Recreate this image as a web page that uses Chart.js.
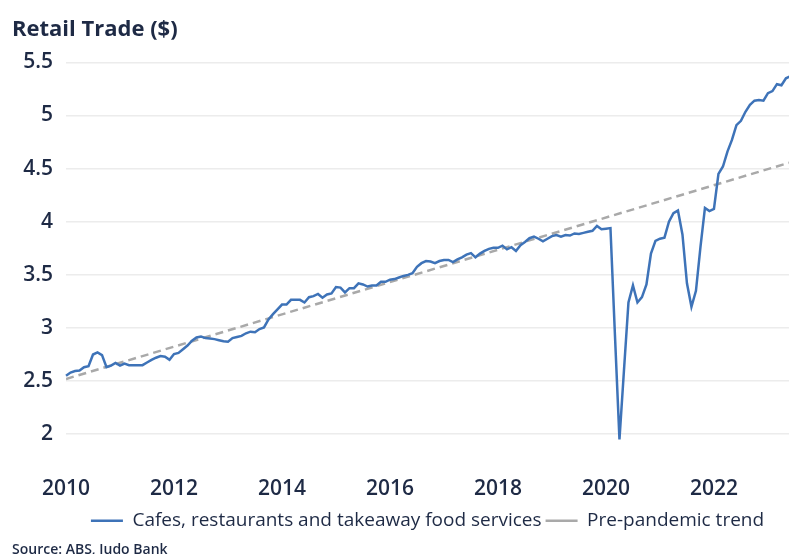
<!DOCTYPE html>
<html>
<head>
<meta charset="utf-8">
<script src="https://cdn.jsdelivr.net/npm/chart.js@4/dist/chart.umd.min.js"></script>
<style>
    html, body { margin: 0; padding: 0; background: #fff; overflow: hidden; }
    canvas { display: block; }
</style>
</head>
<body>
<canvas id="retail-chart" width="789" height="562"></canvas>
<script>
const START_YEAR = 2010

// monthly values, Jan 2010 onwards
const cafeValues = [
    2.55, 2.58, 2.595, 2.60, 2.63, 2.64, 2.75, 2.77, 2.745, 2.63, 2.645, 2.67,
    2.645, 2.665, 2.65, 2.65, 2.65, 2.65, 2.675, 2.70, 2.72, 2.735, 2.73, 2.70,
    2.755, 2.765, 2.80, 2.835, 2.88, 2.91, 2.92, 2.905, 2.90, 2.895, 2.885, 2.875,
    2.87, 2.905, 2.915, 2.925, 2.95, 2.965, 2.96, 2.99, 3.005, 3.08, 3.13, 3.175,
    3.22, 3.22, 3.265, 3.265, 3.265, 3.24, 3.29, 3.30, 3.32, 3.285, 3.315, 3.325,
    3.385, 3.38, 3.335, 3.375, 3.375, 3.42, 3.41, 3.39, 3.40, 3.40, 3.435, 3.435,
    3.455, 3.46, 3.475, 3.49, 3.50, 3.515, 3.575, 3.61, 3.63, 3.625, 3.61, 3.63,
    3.64, 3.64, 3.62, 3.645, 3.665, 3.69, 3.705, 3.665, 3.70, 3.725, 3.745, 3.755,
    3.755, 3.775, 3.74, 3.76, 3.725, 3.78, 3.81, 3.845, 3.86, 3.84, 3.815, 3.84,
    3.865, 3.875, 3.86, 3.875, 3.87, 3.89, 3.885, 3.895, 3.905, 3.915, 3.96, 3.93,
    3.935, 3.94, 2.93, 1.95, 2.60, 3.24, 3.40, 3.24, 3.29, 3.41, 3.70, 3.82,
    3.84, 3.85, 4.00, 4.08, 4.105, 3.88, 3.42, 3.20, 3.35, 3.76, 4.13, 4.10,
    4.12, 4.45, 4.52, 4.66, 4.77, 4.91, 4.95, 5.035, 5.10, 5.14, 5.145, 5.14,
    5.21, 5.23, 5.295, 5.285, 5.35, 5.37
]

// pre-pandemic trend: start and end of the straight line
const trendYears = [2010, 2023.39]
const trendValues = [2.52, 4.555]

const yTicks = [2, 2.5, 3, 3.5, 4, 4.5, 5, 5.5]
const xTickYears = [2010, 2012, 2014, 2016, 2018, 2020, 2022]

const TEXT_COLOR = '#1e2a45'
const FONT = '"Open Sans", Lato, sans-serif'

function monthToYear(i) {
    return START_YEAR + i / 12
}

function buildCafeData() {
    return cafeValues.map((v, i) => ({ x: monthToYear(i), y: v }))
}

function buildTrendData() {
    return trendYears.map((yr, i) => ({ x: yr, y: trendValues[i] }))
}

const ctx = document.querySelector('#retail-chart')

const chart = new Chart(ctx, {
    type: 'line',
    data: {
        datasets: [
            {
                label: 'Cafes, restaurants and takeaway food services',
                data: buildCafeData(),
                borderColor: '#3e73b8',
                backgroundColor: '#3e73b8',
                borderWidth: 2.5,
                pointRadius: 0,
                tension: 0,
                clip: false
            },
            {
                label: 'Pre-pandemic trend',
                data: buildTrendData(),
                borderColor: '#a9a9a9',
                backgroundColor: '#a9a9a9',
                borderWidth: 2.5,
                borderDash: [8, 5],
                pointRadius: 0
            }
        ]
    },
    options: {
        responsive: false,
        animation: false,
        layout: {
            padding: { left: 12, right: 0, top: 6, bottom: 0 }
        },
        scales: {
            x: {
                type: 'linear',
                min: trendYears[0],
                max: trendYears[1],
                afterBuildTicks: axis => {
                    axis.ticks = xTickYears.map(v => ({ value: v }))
                },
                // labels sit far below the plot, but no extra room under them
                afterFit: axis => {
                    axis.height = 73
                },
                ticks: {
                    callback: v => String(v),
                    autoSkip: false,
                    maxRotation: 0,
                    padding: 42,
                    color: TEXT_COLOR,
                    font: { family: FONT, size: 21, weight: '600' }
                },
                grid: { display: false, drawTicks: false },
                border: { display: false }
            },
            y: {
                min: yTicks[0],
                max: yTicks[yTicks.length - 1],
                afterBuildTicks: axis => {
                    axis.ticks = yTicks.map(v => ({ value: v }))
                },
                afterFit: axis => {
                    axis.width = 46
                },
                ticks: {
                    callback: v => String(v),
                    padding: 13,
                    color: TEXT_COLOR,
                    font: { family: FONT, size: 21, weight: '600' }
                },
                grid: { color: '#ececec', lineWidth: 1.5, drawTicks: false },
                border: { display: false }
            }
        },
        plugins: {
            title: {
                display: true,
                text: 'Retail Trade ($)',
                align: 'start',
                color: TEXT_COLOR,
                font: { family: FONT, size: 22, weight: 'bold' },
                padding: { top: 11, bottom: 19 }
            },
            subtitle: {
                display: true,
                position: 'bottom',
                text: 'Source: ABS, Judo Bank',
                align: 'start',
                color: TEXT_COLOR,
                font: { family: FONT, size: 14, weight: '600' },
                padding: { top: 1, bottom: 4 }
            },
            legend: {
                position: 'bottom',
                fullSize: false,
                labels: {
                    usePointStyle: true,
                    pointStyle: 'line',
                    pointStyleWidth: 32,
                    color: TEXT_COLOR,
                    font: { family: FONT, size: 19 },
                    padding: 4
                }
            },
            tooltip: { enabled: false }
        }
    }
})
</script>
</body>
</html>
